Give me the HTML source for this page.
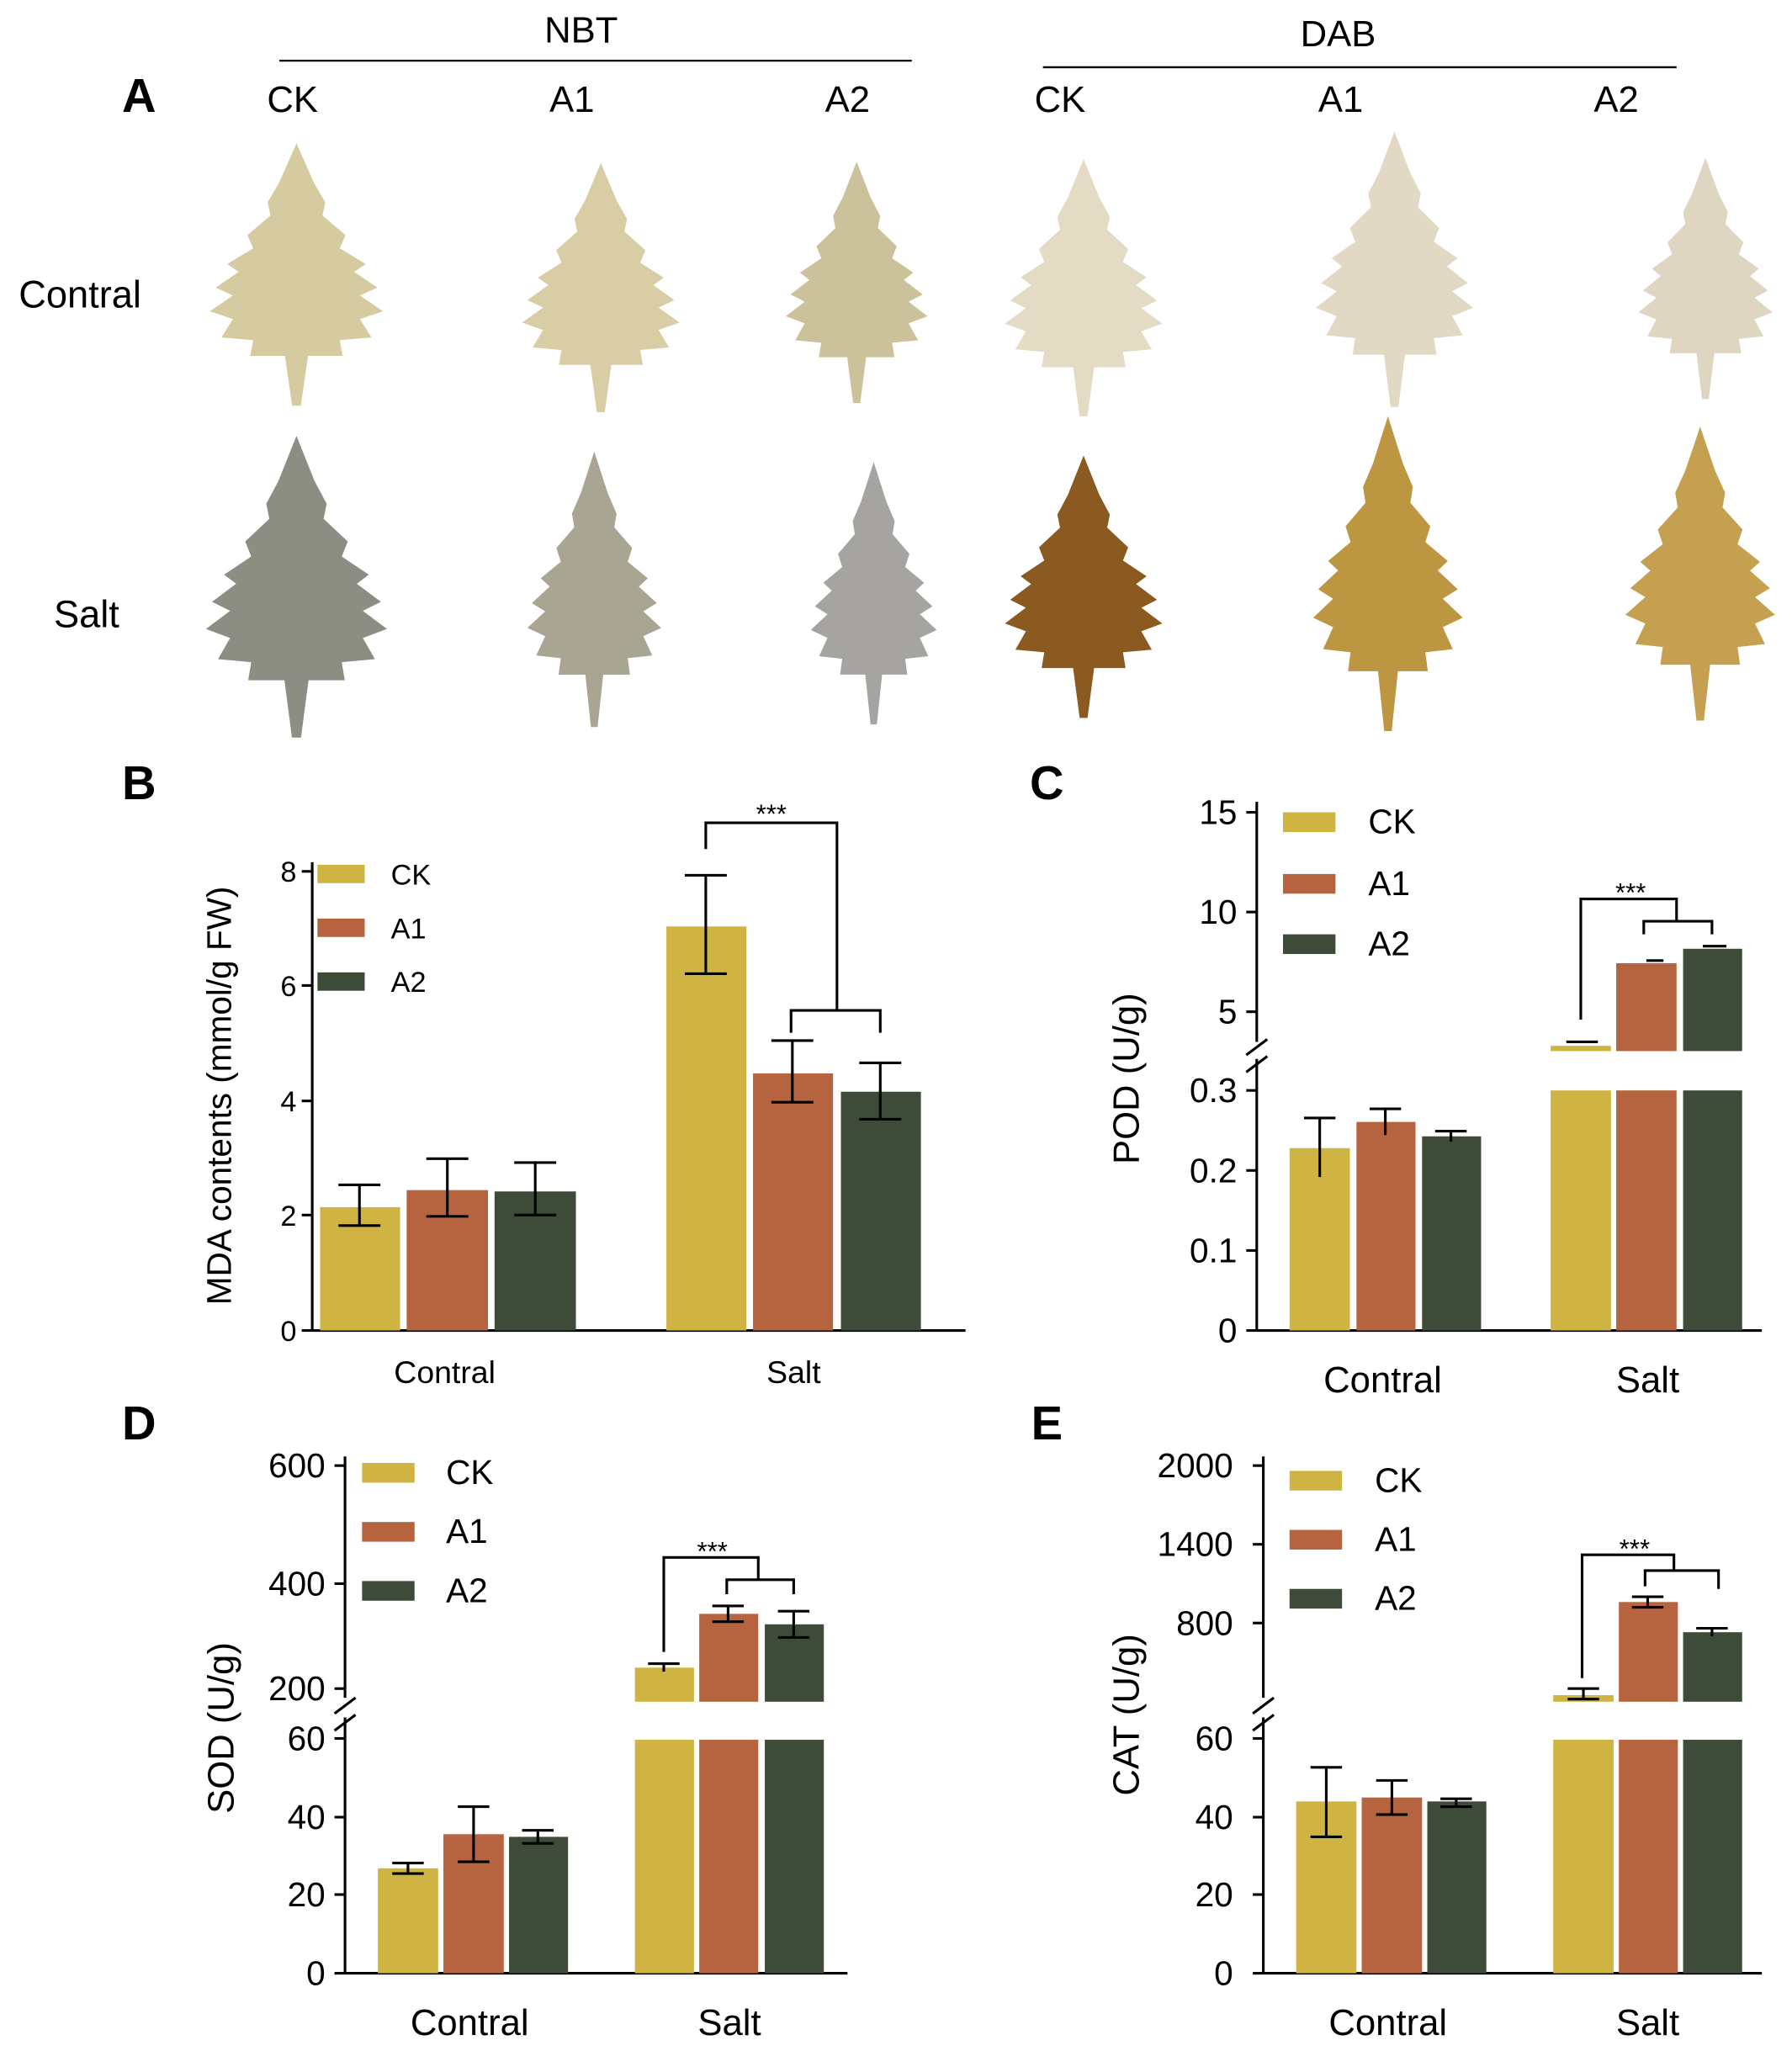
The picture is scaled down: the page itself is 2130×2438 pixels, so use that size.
<!DOCTYPE html>
<html><head><meta charset="utf-8"><style>html,body{margin:0;padding:0;background:#fff}svg{display:block}</style></head>
<body>
<svg width="2130" height="2438" viewBox="0 0 1366 1563" xmlns="http://www.w3.org/2000/svg" font-family="Liberation Sans, Arial, sans-serif">
<defs>
<path id="leaf" d="M0,-100 L12,-70 L20,-55 L18,-45 L34,-30 L30,-20 L48,-8 L40,-2 L56,10 L44,16 L60,28 L44,34 L52,48 L30,50 L32,62 L8,62 L3,100 L-3,100 L-8,62 L-32,62 L-30,50 L-52,48 L-44,34 L-60,28 L-44,16 L-56,10 L-40,-2 L-48,-8 L-30,-20 L-34,-30 L-18,-45 L-20,-55 L-12,-70 Z"/>
</defs>
<rect width="1366" height="1563" fill="#fff"/>
<g transform="translate(-2,-3)">
<!-- Panel A -->
<text x="108" y="88" font-size="36" font-weight="bold" text-anchor="middle">A</text>
<text x="445" y="35" font-size="28" text-anchor="middle">NBT</text>
<line x1="215" y1="49" x2="697" y2="49" stroke="#000" stroke-width="1.5"/>
<text x="1022" y="38" font-size="28" text-anchor="middle">DAB</text>
<line x1="797" y1="54" x2="1280" y2="54" stroke="#000" stroke-width="1.5"/>
<g font-size="28" text-anchor="middle">
<text x="225" y="88">CK</text><text x="438" y="88">A1</text><text x="648" y="88">A2</text>
<text x="810" y="88">CK</text><text x="1024" y="88">A1</text><text x="1234" y="88">A2</text>
</g>
<text x="63" y="237" font-size="29" text-anchor="middle">Contral</text>
<text x="68" y="481" font-size="29" text-anchor="middle">Salt</text>
<g stroke="none">
<use href="#leaf" transform="translate(228,212) scale(1.1,1.0)" fill="#d6caa0"/>
<use href="#leaf" transform="translate(460,222) scale(1.0,0.95)" fill="#d8cda4"/>
<use href="#leaf" transform="translate(655,218) scale(0.9,0.92)" fill="#cbc29c"/>
<use href="#leaf" transform="translate(828,222) scale(1.0,0.98)" fill="#e3dbc4"/>
<use href="#leaf" transform="translate(1065,208) scale(1.0,1.05)" fill="#e2d9c4"/>
<use href="#leaf" transform="translate(1302,215) scale(0.85,0.92)" fill="#dfd6c2"/>
<use href="#leaf" transform="translate(228,450) scale(1.15,1.15)" fill="#8c8e84"/>
<use href="#leaf" transform="translate(455,452) scale(0.85,1.05)" fill="#a8a692"/>
<use href="#leaf" transform="translate(668,455) scale(0.8,1.0)" fill="#a6a4a0"/>
<use href="#leaf" transform="translate(828,450) scale(1.0,1.0)" fill="#8a5a20"/>
<use href="#leaf" transform="translate(1060,440) scale(0.95,1.2)" fill="#bd9642"/>
<use href="#leaf" transform="translate(1298,440) scale(0.95,1.12)" fill="#c4a050"/>
</g>
<!-- Panel B -->
<text x="108" y="612" font-size="36" font-weight="bold" text-anchor="middle">B</text>
<g stroke="#000" stroke-width="2" fill="none">
<line x1="240" y1="660" x2="240" y2="1017"/><line x1="240" y1="1017" x2="738" y2="1017"/>
<line x1="232" y1="667" x2="240" y2="667"/><line x1="232" y1="754" x2="240" y2="754"/><line x1="232" y1="842" x2="240" y2="842"/><line x1="232" y1="929" x2="240" y2="929"/><line x1="232" y1="1017" x2="240" y2="1017"/>
</g>
<g font-size="22" text-anchor="end"><text x="228" y="675">8</text><text x="228" y="762">6</text><text x="228" y="850">4</text><text x="228" y="937">2</text><text x="228" y="1025">0</text></g>
<text transform="translate(178,838) rotate(-90)" font-size="26" text-anchor="middle">MDA contents (mmol/g FW)</text>
<rect x="244" y="662" width="36" height="14" fill="#cfb443"/><text x="300" y="677" font-size="22">CK</text>
<rect x="244" y="703" width="36" height="14" fill="#b5643f"/><text x="300" y="718" font-size="22">A1</text>
<rect x="244" y="744" width="36" height="14" fill="#3d4b38"/><text x="300" y="759" font-size="22">A2</text>
<rect x="246" y="923" width="61" height="94" fill="#cfb443"/>
<rect x="312" y="910" width="62" height="107" fill="#b5643f"/>
<rect x="379" y="911" width="62" height="106" fill="#3d4b38"/>
<rect x="510" y="709" width="61" height="308" fill="#cfb443"/>
<rect x="576" y="821" width="61" height="196" fill="#b5643f"/>
<rect x="643" y="835" width="61" height="182" fill="#3d4b38"/>
<g stroke="#000" stroke-width="2" fill="none">
<path d="M276,906V937M260,906H292M260,937H292"/>
<path d="M343,886V930M327,886H359M327,930H359"/>
<path d="M410,889V929M394,889H426M394,929H426"/>
<path d="M540,670V745M524,670H556M524,745H556"/>
<path d="M606,796V843M590,796H622M590,843H622"/>
<path d="M673,813V856M657,813H689M657,856H689"/>
<path d="M540,650V630H640V773M605,790V773H673V790"/>
</g>
<text x="590" y="630" font-size="20" text-anchor="middle">***</text>
<text x="341" y="1057" font-size="24" text-anchor="middle">Contral</text>
<text x="607" y="1057" font-size="24" text-anchor="middle">Salt</text>
<!-- Panel C -->
<text x="800" y="612" font-size="36" font-weight="bold" text-anchor="middle">C</text>
<g stroke="#000" stroke-width="2" fill="none">
<line x1="960" y1="614" x2="960" y2="797"/><line x1="960" y1="810" x2="960" y2="1017"/>
<line x1="952" y1="807" x2="968" y2="795"/><line x1="952" y1="820" x2="968" y2="808"/>
<line x1="960" y1="1017" x2="1345" y2="1017"/>
<line x1="952" y1="622" x2="960" y2="622"/><line x1="952" y1="698" x2="960" y2="698"/><line x1="952" y1="774" x2="960" y2="774"/>
<line x1="952" y1="834" x2="960" y2="834"/><line x1="952" y1="895" x2="960" y2="895"/><line x1="952" y1="956" x2="960" y2="956"/><line x1="952" y1="1017" x2="960" y2="1017"/>
</g>
<g font-size="26" text-anchor="end"><text x="945" y="631">15</text><text x="945" y="707">10</text><text x="945" y="783">5</text><text x="945" y="843">0.3</text><text x="945" y="904">0.2</text><text x="945" y="965">0.1</text><text x="945" y="1026">0</text></g>
<text transform="translate(870,825) rotate(-90)" font-size="28" text-anchor="middle">POD (U/g)</text>
<rect x="980" y="622" width="40" height="15" fill="#cfb443"/><text x="1045" y="638" font-size="26">CK</text>
<rect x="980" y="669" width="40" height="15" fill="#b5643f"/><text x="1045" y="685" font-size="26">A1</text>
<rect x="980" y="715" width="40" height="15" fill="#3d4b38"/><text x="1045" y="731" font-size="26">A2</text>
<rect x="985" y="878" width="46" height="139" fill="#cfb443"/>
<rect x="1036" y="858" width="45" height="159" fill="#b5643f"/>
<rect x="1086" y="869" width="45" height="148" fill="#3d4b38"/>
<rect x="1184" y="834" width="46" height="183" fill="#cfb443"/><rect x="1184" y="800" width="46" height="4" fill="#cfb443"/>
<rect x="1234" y="834" width="46" height="183" fill="#b5643f"/><rect x="1234" y="737" width="46" height="67" fill="#b5643f"/>
<rect x="1285" y="834" width="45" height="183" fill="#3d4b38"/><rect x="1285" y="726" width="45" height="78" fill="#3d4b38"/>
<g stroke="#000" stroke-width="2" fill="none">
<path d="M1008,855V900M996,855H1020"/>
<path d="M1058,848V868M1046,848H1070"/>
<path d="M1108,865V873M1096,865H1120"/>
<path d="M1196,797H1220M1257,735H1270M1300,724H1318"/>
<path d="M1207,780V688H1280V705M1255,715V705H1307V715"/>
</g>
<text x="1245" y="690" font-size="20" text-anchor="middle">***</text>
<text x="1056" y="1064" font-size="28" text-anchor="middle">Contral</text>
<text x="1258" y="1064" font-size="28" text-anchor="middle">Salt</text>
<!-- Panel D -->
<text x="108" y="1100" font-size="36" font-weight="bold" text-anchor="middle">D</text>
<g stroke="#000" stroke-width="2" fill="none">
<line x1="265" y1="1113" x2="265" y2="1297"/><line x1="265" y1="1312" x2="265" y2="1507"/>
<line x1="257" y1="1309" x2="273" y2="1297"/><line x1="257" y1="1322" x2="273" y2="1310"/>
<line x1="265" y1="1507" x2="648" y2="1507"/>
<line x1="257" y1="1120" x2="265" y2="1120"/><line x1="257" y1="1210" x2="265" y2="1210"/><line x1="257" y1="1290" x2="265" y2="1290"/>
<line x1="257" y1="1328" x2="265" y2="1328"/><line x1="257" y1="1388" x2="265" y2="1388"/><line x1="257" y1="1447" x2="265" y2="1447"/><line x1="257" y1="1507" x2="265" y2="1507"/>
</g>
<g font-size="26" text-anchor="end"><text x="250" y="1129">600</text><text x="250" y="1219">400</text><text x="250" y="1299">200</text><text x="250" y="1337">60</text><text x="250" y="1397">40</text><text x="250" y="1456">20</text><text x="250" y="1516">0</text></g>
<text transform="translate(180,1320) rotate(-90)" font-size="28" text-anchor="middle">SOD (U/g)</text>
<rect x="278" y="1118" width="40" height="15" fill="#cfb443"/><text x="342" y="1134" font-size="26">CK</text>
<rect x="278" y="1163" width="40" height="15" fill="#b5643f"/><text x="342" y="1179" font-size="26">A1</text>
<rect x="278" y="1208" width="40" height="15" fill="#3d4b38"/><text x="342" y="1224" font-size="26">A2</text>
<rect x="290" y="1427" width="46" height="80" fill="#cfb443"/>
<rect x="340" y="1401" width="46" height="106" fill="#b5643f"/>
<rect x="390" y="1403" width="45" height="104" fill="#3d4b38"/>
<rect x="486" y="1329" width="45" height="178" fill="#cfb443"/><rect x="486" y="1274" width="45" height="26" fill="#cfb443"/>
<rect x="535" y="1329" width="45" height="178" fill="#b5643f"/><rect x="535" y="1233" width="45" height="67" fill="#b5643f"/>
<rect x="585" y="1329" width="45" height="178" fill="#3d4b38"/><rect x="585" y="1241" width="45" height="59" fill="#3d4b38"/>
<g stroke="#000" stroke-width="2" fill="none">
<path d="M313,1423V1431M301,1423H325M301,1431H325"/>
<path d="M363,1380V1422M351,1380H375M351,1422H375"/>
<path d="M412,1398V1408M400,1398H424M400,1408H424"/>
<path d="M508,1271V1277M496,1271H520"/>
<path d="M557,1227V1239M545,1227H569M545,1239H569"/>
<path d="M607,1231V1251M595,1231H619M595,1251H619"/>
<path d="M508,1262V1190H580V1207M556,1218V1207H607V1218"/>
</g>
<text x="545" y="1192" font-size="20" text-anchor="middle">***</text>
<text x="360" y="1554" font-size="28" text-anchor="middle">Contral</text>
<text x="558" y="1554" font-size="28" text-anchor="middle">Salt</text>
<!-- Panel E -->
<text x="800" y="1100" font-size="36" font-weight="bold" text-anchor="middle">E</text>
<g stroke="#000" stroke-width="2" fill="none">
<line x1="965" y1="1113" x2="965" y2="1297"/><line x1="965" y1="1312" x2="965" y2="1507"/>
<line x1="957" y1="1309" x2="973" y2="1297"/><line x1="957" y1="1322" x2="973" y2="1310"/>
<line x1="965" y1="1507" x2="1345" y2="1507"/>
<line x1="957" y1="1120" x2="965" y2="1120"/><line x1="957" y1="1180" x2="965" y2="1180"/><line x1="957" y1="1240" x2="965" y2="1240"/>
<line x1="957" y1="1328" x2="965" y2="1328"/><line x1="957" y1="1388" x2="965" y2="1388"/><line x1="957" y1="1447" x2="965" y2="1447"/><line x1="957" y1="1507" x2="965" y2="1507"/>
</g>
<g font-size="26" text-anchor="end"><text x="942" y="1129">2000</text><text x="942" y="1189">1400</text><text x="942" y="1249">800</text><text x="942" y="1337">60</text><text x="942" y="1397">40</text><text x="942" y="1456">20</text><text x="942" y="1516">0</text></g>
<text transform="translate(870,1310) rotate(-90)" font-size="28" text-anchor="middle">CAT (U/g)</text>
<rect x="985" y="1124" width="40" height="15" fill="#cfb443"/><text x="1050" y="1140" font-size="26">CK</text>
<rect x="985" y="1169" width="40" height="15" fill="#b5643f"/><text x="1050" y="1185" font-size="26">A1</text>
<rect x="985" y="1214" width="40" height="15" fill="#3d4b38"/><text x="1050" y="1230" font-size="26">A2</text>
<rect x="990" y="1376" width="46" height="131" fill="#cfb443"/>
<rect x="1040" y="1373" width="46" height="134" fill="#b5643f"/>
<rect x="1090" y="1376" width="45" height="131" fill="#3d4b38"/>
<rect x="1186" y="1329" width="46" height="178" fill="#cfb443"/><rect x="1186" y="1295" width="46" height="5" fill="#cfb443"/>
<rect x="1236" y="1329" width="45" height="178" fill="#b5643f"/><rect x="1236" y="1224" width="45" height="76" fill="#b5643f"/>
<rect x="1285" y="1329" width="45" height="178" fill="#3d4b38"/><rect x="1285" y="1247" width="45" height="53" fill="#3d4b38"/>
<g stroke="#000" stroke-width="2" fill="none">
<path d="M1013,1350V1403M1001,1350H1025M1001,1403H1025"/>
<path d="M1063,1360V1386M1051,1360H1075M1051,1386H1075"/>
<path d="M1112,1374V1380M1100,1374H1124M1100,1380H1124"/>
<path d="M1209,1290V1298M1197,1290H1221M1197,1298H1221"/>
<path d="M1258,1220V1228M1246,1220H1270M1246,1228H1270"/>
<path d="M1307,1244V1250M1295,1244H1319"/>
<path d="M1208,1282V1188H1278V1200M1256,1212V1200H1312V1214"/>
</g>
<text x="1248" y="1190" font-size="20" text-anchor="middle">***</text>
<text x="1060" y="1554" font-size="28" text-anchor="middle">Contral</text>
<text x="1258" y="1554" font-size="28" text-anchor="middle">Salt</text>
</g>
</svg>
</body></html>
